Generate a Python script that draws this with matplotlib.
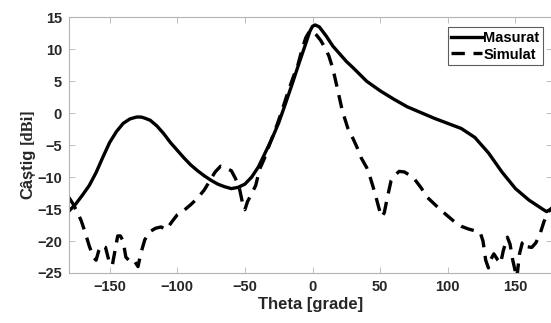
import matplotlib
matplotlib.use("Agg")
import matplotlib.pyplot as plt

theta_meas = [-180, -175, -170, -165, -160, -155, -150, -145, -140, -135, -130, -127,
              -125, -120, -115, -110, -105, -100, -95, -90, -85, -80, -75, -70, -65,
              -60, -55, -50, -45, -40, -35, -30, -25, -20, -15, -10, -5, -2, 0, 2, 5,
              10, 15, 20, 25, 30, 40, 50, 60, 70, 80, 90, 100, 110, 120, 130, 140,
              150, 160, 170, 173, 177]
gain_meas = [-15.3, -14.2, -12.8, -11.3, -9.3, -6.9, -4.6, -2.9, -1.6, -0.9, -0.6, -0.6,
             -0.7, -1.1, -2.0, -3.2, -4.6, -5.8, -7.0, -8.1, -9.0, -9.8, -10.5, -11.1,
             -11.5, -11.8, -11.6, -11.1, -10.0, -8.4, -6.2, -4.0, -1.5, 1.5, 4.6, 7.8,
             10.9, 12.8, 13.6, 13.8, 13.5, 12.1, 10.5, 9.3, 8.1, 7.1, 5.0, 3.5, 2.2,
             1.0, 0.1, -0.8, -1.6, -2.4, -3.8, -6.2, -9.2, -11.8, -13.6, -15.0, -15.4,
             -14.9]

theta_sim = [-180, -177, -174, -171, -168, -165, -162, -160, -158, -156, -153, -150,
             -148, -146, -144, -142, -140, -138, -135, -132, -129, -127, -124, -120,
             -116, -112, -108, -104, -100, -95, -90, -85, -80, -76, -72, -68, -64,
             -60, -57, -54, -51, -50, -48, -45, -42, -39, -36, -33, -30, -26, -22,
             -18, -14, -11, -8, -5, -2, 0, 3, 6, 9, 12, 15, 18, 22, 26, 30, 33, 36,
             40, 43, 46, 49, 51, 53, 55, 58, 61, 64, 68, 71, 75, 80, 85, 90, 95, 100,
             105, 110, 115, 120, 124, 126, 128, 130, 132, 134, 137, 139, 141, 144,
             146, 148, 151, 153, 155, 157, 159, 162, 165, 168, 171, 174, 177]
gain_sim = [-13.2, -14.2, -15.4, -16.8, -18.7, -20.8, -22.5, -23.0, -21.5, -20.7, -21.0,
            -23.5, -23.8, -21.5, -19.2, -19.2, -20.0, -22.5, -23.2, -23.0, -24.0, -22.0,
            -19.8, -18.5, -18.0, -17.8, -18.2, -17.0, -15.9, -15.2, -14.3, -13.3, -12.0,
            -10.6, -9.2, -8.3, -8.6, -9.0, -10.2, -11.8, -14.8, -15.1, -13.8, -12.6,
            -11.3, -8.7, -7.3, -5.6, -3.9, -1.7, 0.8, 3.4, 5.8, 7.4, 9.8, 11.8, 12.9,
            12.8, 12.2, 11.4, 10.3, 9.0, 7.0, 4.2, 0.4, -2.3, -4.0, -5.4, -7.0, -8.5,
            -10.3, -12.4, -14.8, -16.2, -15.6, -13.5, -10.6, -9.7, -9.1, -9.2, -9.6,
            -10.2, -11.6, -13.2, -14.2, -15.2, -16.1, -17.0, -17.7, -18.1, -18.4,
            -18.7, -20.0, -23.0, -24.2, -22.8, -22.0, -23.0, -23.5, -21.5, -19.4,
            -20.5, -23.0, -25.8, -22.0, -20.3, -20.0, -20.9, -21.0, -20.3, -19.0,
            -17.0, -15.5, -14.8]

x_ticks = [-150, -100, -50, 0, 50, 100, 150]
y_ticks = [-25, -20, -15, -10, -5, 0, 5, 10, 15]
series_names = ["Masurat", "Simulat"]

txt = "#262626"
frame = "#b3b3b3"

fig = plt.figure(figsize=(5.51, 3.23), dpi=100)
ax = fig.add_axes([69 / 551, 50 / 323, 483 / 551, 255.7 / 323])

ax.plot(theta_meas, gain_meas, color="black", lw=2.4, label=series_names[0])
ax.plot(theta_sim, gain_sim, color="black", lw=2.4, linestyle=(0, (4, 2.6)),
        label=series_names[1])

ax.set_xlim(-180, 177)
ax.set_ylim(-25, 15)
ax.set_xticks(x_ticks)
ax.set_yticks(y_ticks)
ax.tick_params(direction="in", length=4, width=0.6, color=frame,
               top=True, right=True, labelsize=10.5, labelcolor=txt, pad=5)
for lab in ax.get_xticklabels() + ax.get_yticklabels():
    lab.set_fontweight("bold")
    lab.set_fontfamily("Liberation Sans")
for sp in ax.spines.values():
    sp.set_color(frame)
    sp.set_linewidth(0.8)

ax.set_xlabel("Theta [grade]", fontsize=12, fontweight="bold",
              family="Liberation Sans", color=txt, labelpad=2)

fig.text(28 / 551, 1 - 149 / 323, "Câștig", rotation=90, ha="center", va="top",
         fontsize=12, fontweight="bold", family="Liberation Sans", color=txt)
fig.text(28 / 551, 1 - 144 / 323, "[dBi]", rotation=90, ha="center", va="bottom",
         fontsize=12, fontweight="bold", family="Liberation Serif", color=txt)

leg = ax.legend(loc="upper right", frameon=True, fancybox=False,
                handlelength=2.1, handletextpad=0.1, borderpad=0.25,
                labelspacing=0.2, borderaxespad=0.0,
                prop={"family": "Liberation Sans", "weight": "bold", "size": 10.5})
leg.get_frame().set_edgecolor("#333333")
leg.get_frame().set_linewidth(0.8)
leg.set_bbox_to_anchor((543 / 551, 1 - 27 / 323), transform=fig.transFigure)

fig.savefig("out.png", dpi=100)
